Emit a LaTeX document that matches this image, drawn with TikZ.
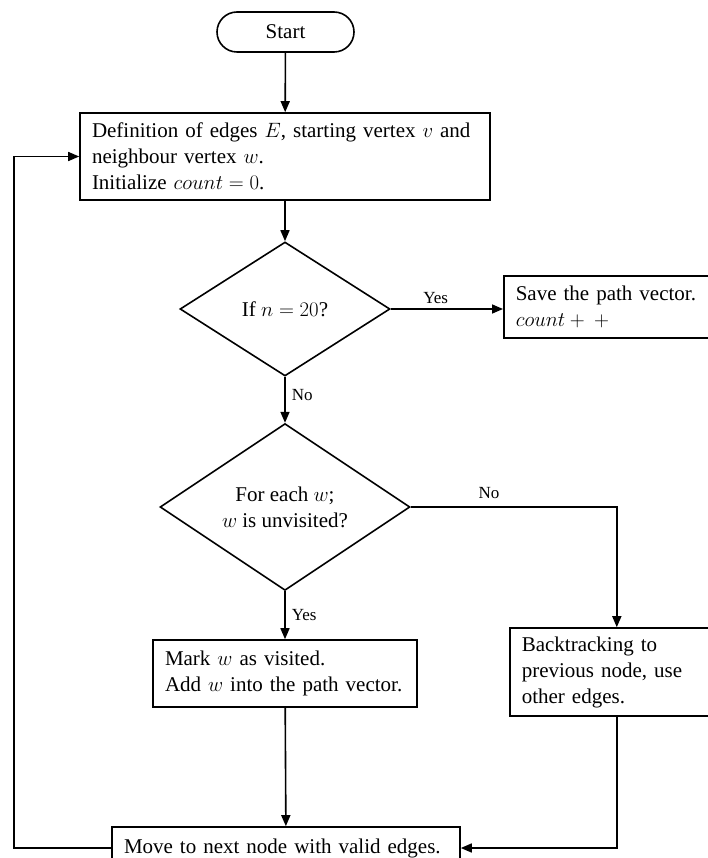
\documentclass[tikz,border=0pt]{standalone}
\usepackage{fontspec}
\setmainfont{Liberation Serif}
\usetikzlibrary{arrows.meta, shapes.geometric}

\tikzset{
  every node/.style={font=\fontsize{21}{26}\selectfont},
  terminal/.style={
    draw=black, line width=1.6pt, rounded corners=20pt,
    minimum width=137pt, minimum height=40pt, inner sep=0pt
  },
  procbox/.style={
    draw=black, line width=1.6pt, align=left,
    inner xsep=12pt, inner ysep=0pt
  },
  decision/.style={
    draw=black, line width=1.6pt, diamond, align=center,
    inner sep=0pt
  },
  lbl/.style={font=\fontsize{17}{20}\selectfont, inner sep=2pt},
  arr/.style={-{Stealth[length=11pt,width=9pt,inset=0pt]}, line width=1.6pt},
}

\begin{document}
\begin{tikzpicture}[x=1pt, y=-1pt]
  \useasboundingbox (0,0) rectangle (708,858);

  % Nodes
  \node[terminal] (start) at (285.5,32) {Start};

  \node[procbox, text width=386pt, minimum height=87pt] (def) at (285,156.5)
    {Definition of edges $E$, starting vertex $v$ and\\
     neighbour vertex $w$.\\
     Initialize $count = 0$.};

  \node[decision, minimum width=210pt, minimum height=134pt] (dec1) at (285,309)
    {If $n = 20$?};

  \node[procbox, text width=190pt, minimum height=62pt, anchor=west] (save) at (503,307)
    {Save the path vector.\\ $count + {} + {}$};

  \node[decision, minimum width=250pt, minimum height=140pt] (dec2) at (285,507)
    {For each $w$;\\ $w$ is unvisited?};

  \node[procbox, text width=240pt, minimum height=67pt] (mark) at (285,673.5)
    {Mark $w$ as visited.\\ Add $w$ into the path vector.};

  \node[procbox, text width=190pt, minimum height=88pt, anchor=west] (back) at (509,672)
    {Backtracking to\\ previous node, use\\ other edges.};

  \node[procbox, text width=324pt, minimum height=42pt] (move) at (286,848)
    {Move to next node with valid edges.};

  % loop-back corner
  \coordinate (lp) at (14,848);

  % Connectors
  \draw[arr] (start) -- (def);
  \draw[arr] (def) -- (dec1);
  \draw[arr] (dec1.east) -- node[lbl, above, pos=0.4, yshift=3pt] {Yes} (dec1.east -| save.west);
  \draw[arr] (dec1) -- node[lbl, right, pos=0.4, xshift=4pt] {No} (dec2);
  \draw[arr] (dec2.east) -| node[lbl, above, pos=0.19, yshift=6pt] {No} (back);
  \draw[arr] (dec2) -- node[lbl, right, pos=0.5, xshift=4pt] {Yes} (mark);
  \draw[arr] (mark) -- (move);
  \draw[arr] (back.south) |- (move.east);
  \draw[arr] (move.west) -- (lp) |- (def.west);
\end{tikzpicture}
\end{document}
